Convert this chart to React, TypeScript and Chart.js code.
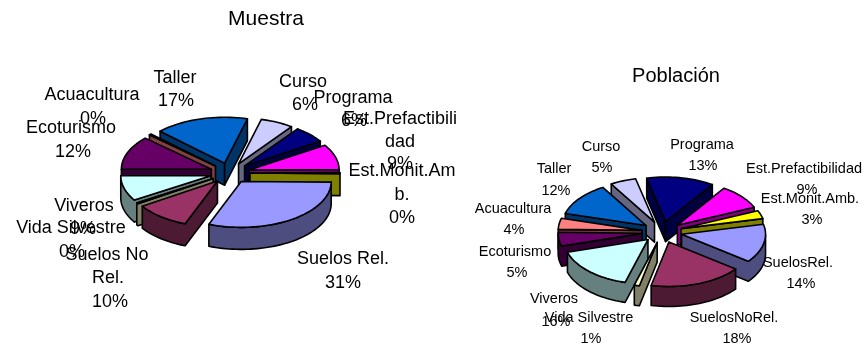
import React, { useEffect, useRef } from "react";
import { Chart, registerables } from "chart.js";

Chart.register(...registerables);

const categories = ["Programa", "Est.Prefactibilidad", "Est.Monit.Amb.", "Suelos Rel.", "Suelos No Rel.", "Vida Silvestre", "Viveros", "Ecoturismo", "Acuacultura", "Taller", "Curso"];
const muestraValues = [6, 9, 0.4, 31, 10, 0.4, 9, 12, 0.4, 17, 6];
const poblacionValues = [13, 9, 3, 14, 18, 1, 16, 5, 4, 12, 5];
const sliceColors = ["#000080", "#FF00FF", "#FFFF00", "#9999FF", "#993366", "#FFFFCC", "#CCFFFF", "#660066", "#FF8080", "#0066CC", "#CCCCFF"];
const sideColors = ["#000040", "#800080", "#808000", "#4D4D80", "#4D1A33", "#808066", "#668080", "#330033", "#804040", "#003366", "#666680"];

const muestraLabelLines = [["Programa"], ["Est.Prefactibili", "dad"], ["Est.Monit.Am", "b."], ["Suelos Rel."], ["Suelos No", "Rel."], ["Vida Silvestre"], ["Viveros"], ["Ecoturismo"], ["Acuacultura"], ["Taller"], ["Curso"]];
const poblacionLabelLines = [["Programa"], ["Est.Prefactibilidad"], ["Est.Monit.Amb."], ["SuelosRel."], ["SuelosNoRel."], ["Vida Silvestre"], ["Viveros"], ["Ecoturismo"], ["Acuacultura"], ["Taller"], ["Curso"]];

const muestraLabelAt = [
  [[353, 97], [354, 120]],
  [[400, 118], [400, 141], [400, 163]],
  [[402, 170], [402, 194], [402, 217]],
  [[343, 258], [343, 282]],
  [[107, 254], [108, 277], [110, 301]],
  [[71, 227], [72, 251]],
  [[84, 205], [83, 228]],
  [[71, 127], [73, 151]],
  [[92, 94], [93, 118]],
  [[175, 77], [176, 100]],
  [[303, 81], [305, 104]],
];
const poblacionLabelAt = [
  [[702, 144], [703, 165]],
  [[804, 168], [807, 189]],
  [[810, 198], [812, 219]],
  [[798, 262], [801, 283]],
  [[734, 317], [737, 338]],
  [[589, 317], [591, 338]],
  [[554, 298], [556, 321]],
  [[515, 251], [517, 272]],
  [[513, 208], [514, 229]],
  [[554, 168], [556, 190]],
  [[601, 146], [602, 167]],
];

type PieSetup = {
  title: string; titleAt: number[]; titleFont: number; values: number[]; lines: string[][]; at: number[][][];
  rotation: number; radius: number; explode: number; squash: number; depth: number; font: number;
  padding: { left: number; right: number; top: number; bottom: number };
};

const setups: PieSetup[] = [
  { title: "Muestra", titleAt: [266, 18], titleFont: 21, values: muestraValues, lines: muestraLabelLines, at: muestraLabelAt, rotation: 36, radius: 90, explode: 20, squash: 0.51, depth: 22, font: 18, padding: { left: 0, right: 406, top: 0, bottom: 0 } },
  { title: "Población", titleAt: [676, 75], titleFont: 20, values: poblacionValues, lines: poblacionLabelLines, at: poblacionLabelAt, rotation: -13, radius: 84, explode: 20, squash: 0.53, depth: 20, font: 14.5, padding: { left: 458, right: 0, top: 118, bottom: 0 } },
];

const FAMILY = '"Liberation Sans", Arial, sans-serif';

function pie3dPlugin(s: PieSetup) {
  return {
    id: "pie3d",
    beforeDatasetsDraw(chart: any) {
      const ctx: CanvasRenderingContext2D = chart.ctx;
      const arcs: any[] = chart.getDatasetMeta(0).data;
      const order = arcs.map((_, i) => i).sort((a, b) => {
        const m = (e: any) => Math.sin((e.startAngle + e.endAngle) / 2);
        return m(arcs[a]) - m(arcs[b]);
      });
      for (const i of order) {
        const e = arcs[i];
        const o = s.explode;
        const mid = (e.startAngle + e.endAngle) / 2;
        const ax = e.x + Math.cos(mid) * o;
        const ay = e.y + Math.sin(mid) * o * s.squash;
        const R = e.outerRadius;
        const steps = Math.max(2, Math.ceil((e.endAngle - e.startAngle) / 0.04));
        const pts: number[][] = [[ax, ay]];
        for (let k = 0; k <= steps; k++) {
          const t = e.startAngle + ((e.endAngle - e.startAngle) * k) / steps;
          pts.push([ax + Math.cos(t) * R, ay + Math.sin(t) * R * s.squash]);
        }
        ctx.save();
        ctx.lineWidth = 1.6;
        ctx.lineJoin = "round";
        ctx.strokeStyle = "#000";
        ctx.fillStyle = sideColors[i];
        // walls: every polygon edge running leftwards faces the viewer
        let run: number[][] = [];
        const flush = () => {
          if (run.length > 1) {
            ctx.beginPath();
            run.forEach((p, j) => (j ? ctx.lineTo(p[0], p[1]) : ctx.moveTo(p[0], p[1])));
            for (let j = run.length - 1; j >= 0; j--) ctx.lineTo(run[j][0], run[j][1] + s.depth);
            ctx.closePath();
            ctx.fill();
            ctx.stroke();
          }
          run = [];
        };
        for (let k = 0; k < pts.length; k++) {
          const p = pts[k];
          const q = pts[(k + 1) % pts.length];
          if (q[0] < p[0]) {
            if (!run.length) run.push(p);
            run.push(q);
          } else flush();
        }
        flush();
        ctx.restore();
        // top face: the library's own arc, squashed and pulled out of the pie
        ctx.save();
        ctx.translate(e.x, e.y);
        ctx.scale(1, s.squash);
        ctx.translate(Math.cos(mid) * o, Math.sin(mid) * o);
        ctx.translate(-e.x, -e.y);
        e.draw(ctx);
        ctx.restore();
        ctx.save();
        ctx.lineWidth = 1.6;
        ctx.lineJoin = "round";
        ctx.strokeStyle = "#000";
        ctx.beginPath();
        pts.forEach((p, j) => (j ? ctx.lineTo(p[0], p[1]) : ctx.moveTo(p[0], p[1])));
        ctx.closePath();
        ctx.stroke();
        ctx.restore();
      }
      return false;
    },
    afterDraw(chart: any) {
      const ctx: CanvasRenderingContext2D = chart.ctx;
      ctx.save();
      ctx.fillStyle = "#000";
      ctx.textAlign = "center";
      ctx.textBaseline = "middle";
      ctx.font = `${s.titleFont}px ${FAMILY}`;
      ctx.fillText(s.title, s.titleAt[0], s.titleAt[1] + 1);
      ctx.font = `${s.font}px ${FAMILY}`;
      s.values.forEach((v, i) => {
        const texts = [...s.lines[i], `${Math.round(v)}%`];
        texts.forEach((t, j) => {
          const [x, y] = s.at[i][j];
          ctx.fillText(t, x, y + 1);
        });
      });
      ctx.restore();
    },
  };
}

function Pie({ setup }: { setup: PieSetup }) {
  const ref = useRef<HTMLCanvasElement>(null);
  useEffect(() => {
    const chart = new Chart(ref.current as HTMLCanvasElement, {
      type: "pie",
      data: {
        labels: categories,
        datasets: [{ data: setup.values, backgroundColor: sliceColors, borderWidth: 0 }],
      },
      options: {
        animation: false,
        responsive: false,
        rotation: setup.rotation,
        radius: setup.radius,
        layout: { padding: setup.padding },
        plugins: { legend: { display: false }, tooltip: { enabled: false } },
      },
      plugins: [pie3dPlugin(setup)],
    } as any);
    return () => chart.destroy();
  }, [setup]);
  return <canvas ref={ref} width={866} height={346} style={{ position: "absolute", left: 0, top: 0, width: 866, height: 346 }} />;
}

export default function App() {
  return (
    <div style={{ position: "fixed", left: 0, top: 0, width: 866, height: 346, background: "#fff", overflow: "hidden" }}>
      {setups.map((s) => (
        <Pie key={s.title} setup={s} />
      ))}
    </div>
  );
}
